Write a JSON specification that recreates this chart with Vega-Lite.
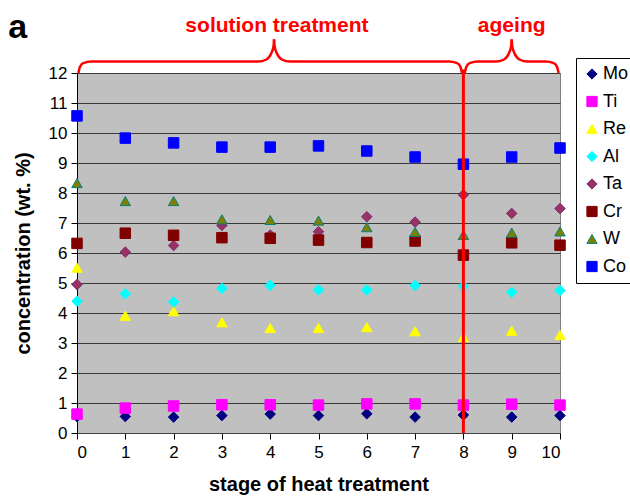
{
  "$schema": "https://vega.github.io/schema/vega-lite/v6.json",
  "width": 483,
  "height": 360,
  "autosize": "none",
  "padding": {"left": 77, "top": 73, "right": 70, "bottom": 66},
  "background": "white",
  "config": {
    "font": "Liberation Sans",
    "view": {"fill": "#c0c0c0", "stroke": "#808080", "strokeWidth": 1},
    "axis": {
      "labelFont": "Liberation Sans", "labelFontSize": 17, "labelColor": "#000000",
      "titleFont": "Liberation Sans", "titleFontSize": 20, "titleFontWeight": "bold", "titleColor": "#000000",
      "domainColor": "#000000", "tickColor": "#000000", "tickSize": 6,
      "gridColor": "#3a3a3a", "gridWidth": 1, "gridOpacity": 1, "labelOverlap": false
    },
    "legend": {
      "orient": "none", "legendX": 499, "legendY": -15,
      "strokeColor": "#000000", "fillColor": "#ffffff", "cornerRadius": 0,
      "padding": 7, "rowPadding": 9.5,
      "labelFont": "Liberation Sans", "labelFontSize": 18, "labelColor": "#000000",
      "labelOffset": 2, "symbolSize": 105, "symbolStrokeWidth": 1, "titlePadding": 0
    }
  },
  "datasets": {
    "main": [
      {"s": "Mo", "x": 0, "y": 0.55}, {"s": "Mo", "x": 1, "y": 0.55}, {"s": "Mo", "x": 2, "y": 0.53}, {"s": "Mo", "x": 3, "y": 0.58}, {"s": "Mo", "x": 4, "y": 0.63}, {"s": "Mo", "x": 5, "y": 0.58}, {"s": "Mo", "x": 6, "y": 0.64}, {"s": "Mo", "x": 7, "y": 0.53}, {"s": "Mo", "x": 8, "y": 0.6}, {"s": "Mo", "x": 9, "y": 0.53}, {"s": "Mo", "x": 10, "y": 0.58},
      {"s": "Ti", "x": 0, "y": 0.63}, {"s": "Ti", "x": 1, "y": 0.83}, {"s": "Ti", "x": 2, "y": 0.9}, {"s": "Ti", "x": 3, "y": 0.94}, {"s": "Ti", "x": 4, "y": 0.94}, {"s": "Ti", "x": 5, "y": 0.93}, {"s": "Ti", "x": 6, "y": 0.97}, {"s": "Ti", "x": 7, "y": 0.97}, {"s": "Ti", "x": 8, "y": 0.93}, {"s": "Ti", "x": 9, "y": 0.96}, {"s": "Ti", "x": 10, "y": 0.93},
      {"s": "Re", "x": 0, "y": 5.51}, {"s": "Re", "x": 1, "y": 3.91}, {"s": "Re", "x": 2, "y": 4.06}, {"s": "Re", "x": 3, "y": 3.69}, {"s": "Re", "x": 4, "y": 3.5}, {"s": "Re", "x": 5, "y": 3.5}, {"s": "Re", "x": 6, "y": 3.53}, {"s": "Re", "x": 7, "y": 3.39}, {"s": "Re", "x": 8, "y": 3.2}, {"s": "Re", "x": 9, "y": 3.41}, {"s": "Re", "x": 10, "y": 3.27},
      {"s": "Al", "x": 0, "y": 4.39}, {"s": "Al", "x": 1, "y": 4.64}, {"s": "Al", "x": 2, "y": 4.37}, {"s": "Al", "x": 3, "y": 4.82}, {"s": "Al", "x": 4, "y": 4.92}, {"s": "Al", "x": 5, "y": 4.77}, {"s": "Al", "x": 6, "y": 4.77}, {"s": "Al", "x": 7, "y": 4.92}, {"s": "Al", "x": 8, "y": 4.89}, {"s": "Al", "x": 9, "y": 4.69}, {"s": "Al", "x": 10, "y": 4.75},
      {"s": "Ta", "x": 0, "y": 4.95}, {"s": "Ta", "x": 1, "y": 6.03}, {"s": "Ta", "x": 2, "y": 6.25}, {"s": "Ta", "x": 3, "y": 6.92}, {"s": "Ta", "x": 4, "y": 6.6}, {"s": "Ta", "x": 5, "y": 6.71}, {"s": "Ta", "x": 6, "y": 7.21}, {"s": "Ta", "x": 7, "y": 7.03}, {"s": "Ta", "x": 8, "y": 7.94}, {"s": "Ta", "x": 9, "y": 7.32}, {"s": "Ta", "x": 10, "y": 7.48},
      {"s": "Cr", "x": 0, "y": 6.32}, {"s": "Cr", "x": 1, "y": 6.66}, {"s": "Cr", "x": 2, "y": 6.59}, {"s": "Cr", "x": 3, "y": 6.51}, {"s": "Cr", "x": 4, "y": 6.49}, {"s": "Cr", "x": 5, "y": 6.43}, {"s": "Cr", "x": 6, "y": 6.35}, {"s": "Cr", "x": 7, "y": 6.4}, {"s": "Cr", "x": 8, "y": 5.93}, {"s": "Cr", "x": 9, "y": 6.34}, {"s": "Cr", "x": 10, "y": 6.26},
      {"s": "W", "x": 0, "y": 8.33}, {"s": "W", "x": 1, "y": 7.73}, {"s": "W", "x": 2, "y": 7.73}, {"s": "W", "x": 3, "y": 7.12}, {"s": "W", "x": 4, "y": 7.1}, {"s": "W", "x": 5, "y": 7.08}, {"s": "W", "x": 6, "y": 6.86}, {"s": "W", "x": 7, "y": 6.7}, {"s": "W", "x": 8, "y": 6.6}, {"s": "W", "x": 9, "y": 6.68}, {"s": "W", "x": 10, "y": 6.72},
      {"s": "Co", "x": 0, "y": 10.57}, {"s": "Co", "x": 1, "y": 9.83}, {"s": "Co", "x": 2, "y": 9.67}, {"s": "Co", "x": 3, "y": 9.53}, {"s": "Co", "x": 4, "y": 9.53}, {"s": "Co", "x": 5, "y": 9.57}, {"s": "Co", "x": 6, "y": 9.4}, {"s": "Co", "x": 7, "y": 9.2}, {"s": "Co", "x": 8, "y": 8.96}, {"s": "Co", "x": 9, "y": 9.2}, {"s": "Co", "x": 10, "y": 9.5}
    ],
    "divider": [
      {"x": 8, "y": 0, "y2": 12.12}
    ],
    "braces": [
      {"part": "s1", "x": 0.03, "y": 12.0}, {"part": "s1", "x": 0.06, "y": 12.2}, {"part": "s1", "x": 0.13, "y": 12.33}, {"part": "s1", "x": 0.3, "y": 12.38}, {"part": "s1", "x": 3.75, "y": 12.38}, {"part": "s1", "x": 3.92, "y": 12.45}, {"part": "s1", "x": 4.02, "y": 12.65}, {"part": "s1", "x": 4.07, "y": 12.9}, {"part": "s1", "x": 4.08, "y": 13.12},
      {"part": "s2", "x": 4.08, "y": 13.12}, {"part": "s2", "x": 4.09, "y": 12.9}, {"part": "s2", "x": 4.14, "y": 12.65}, {"part": "s2", "x": 4.24, "y": 12.45}, {"part": "s2", "x": 4.41, "y": 12.38}, {"part": "s2", "x": 7.7, "y": 12.38}, {"part": "s2", "x": 7.87, "y": 12.33}, {"part": "s2", "x": 7.94, "y": 12.2}, {"part": "s2", "x": 7.97, "y": 12.0},
      {"part": "a1", "x": 8.03, "y": 12.0}, {"part": "a1", "x": 8.06, "y": 12.2}, {"part": "a1", "x": 8.13, "y": 12.33}, {"part": "a1", "x": 8.3, "y": 12.38}, {"part": "a1", "x": 8.67, "y": 12.38}, {"part": "a1", "x": 8.84, "y": 12.45}, {"part": "a1", "x": 8.94, "y": 12.65}, {"part": "a1", "x": 8.99, "y": 12.9}, {"part": "a1", "x": 9.0, "y": 13.12},
      {"part": "a2", "x": 9.0, "y": 13.12}, {"part": "a2", "x": 9.01, "y": 12.9}, {"part": "a2", "x": 9.06, "y": 12.65}, {"part": "a2", "x": 9.16, "y": 12.45}, {"part": "a2", "x": 9.33, "y": 12.38}, {"part": "a2", "x": 9.7, "y": 12.38}, {"part": "a2", "x": 9.87, "y": 12.33}, {"part": "a2", "x": 9.94, "y": 12.2}, {"part": "a2", "x": 9.97, "y": 12.0}
    ],
    "labels": [
      {"t": "solution treatment", "x": 4.14, "y": 13.38},
      {"t": "ageing", "x": 9.0, "y": 13.38}
    ],
    "panel": [
      {"t": "a", "x": -1.23, "y": 13.18}
    ]
  },
  "encoding": {
    "x": {"field": "x", "type": "quantitative", "scale": {"domain": [0, 10], "nice": false},
      "axis": {"title": "stage of heat treatment", "values": [0,1,2,3,4,5,6,7,8,9,10], "grid": false, "labelPadding": 5, "titlePadding": 14, "domainColor": "#404040", "format": "d"}},
    "y": {"field": "y", "type": "quantitative", "scale": {"domain": [0, 12], "nice": false},
      "axis": {"title": "concentration (wt. %)", "values": [0,1,2,3,4,5,6,7,8,9,10,11,12], "grid": true, "tickSize": 6, "labelPadding": 4, "titlePadding": 15, "format": "d"}}
  },
  "layer": [
    {
      "data": {"name": "main"},
      "mark": {"type": "point", "filled": true, "size": 110, "strokeWidth": 1, "opacity": 1},
      "encoding": {
        "fill": {"field": "s", "type": "nominal", "title": null,
          "scale": {"domain": ["Mo","Ti","Re","Al","Ta","Cr","W","Co"], "range": ["#000080","#ff00ff","#ffff00","#00ffff","#993366","#800000","#808000","#0000ff"]}},
        "stroke": {"field": "s", "type": "nominal", "title": null,
          "scale": {"domain": ["Mo","Ti","Re","Al","Ta","Cr","W","Co"], "range": ["#000080","#ff00ff","#ffff00","#00ffff","#7a2a6a","#800000","#008080","#0000ff"]}},
        "shape": {"field": "s", "type": "nominal", "title": null,
          "scale": {"domain": ["Mo","Ti","Re","Al","Ta","Cr","W","Co"], "range": ["diamond","square","triangle-up","diamond","diamond","square","triangle-up","square"]}}
      }
    },
    {
      "data": {"name": "divider"},
      "mark": {"type": "rule", "color": "#ff0000", "strokeWidth": 3},
      "encoding": {"y2": {"field": "y2"}}
    },
    {
      "data": {"name": "braces"},
      "mark": {"type": "line", "color": "#ff0000", "strokeWidth": 2.5, "interpolate": "monotone"},
      "encoding": {
        "detail": {"field": "part", "type": "nominal"}
      }
    },
    {
      "data": {"name": "labels"},
      "mark": {"type": "text", "color": "#ff0000", "font": "Liberation Sans", "fontSize": 21, "fontWeight": "bold", "align": "center", "baseline": "alphabetic"},
      "encoding": {
        "text": {"field": "t"}
      }
    },
    {
      "data": {"name": "panel"},
      "mark": {"type": "text", "color": "#000000", "font": "Liberation Sans", "fontSize": 34, "fontWeight": "bold", "align": "center", "baseline": "alphabetic"},
      "encoding": {
        "text": {"field": "t"}
      }
    }
  ]
}
